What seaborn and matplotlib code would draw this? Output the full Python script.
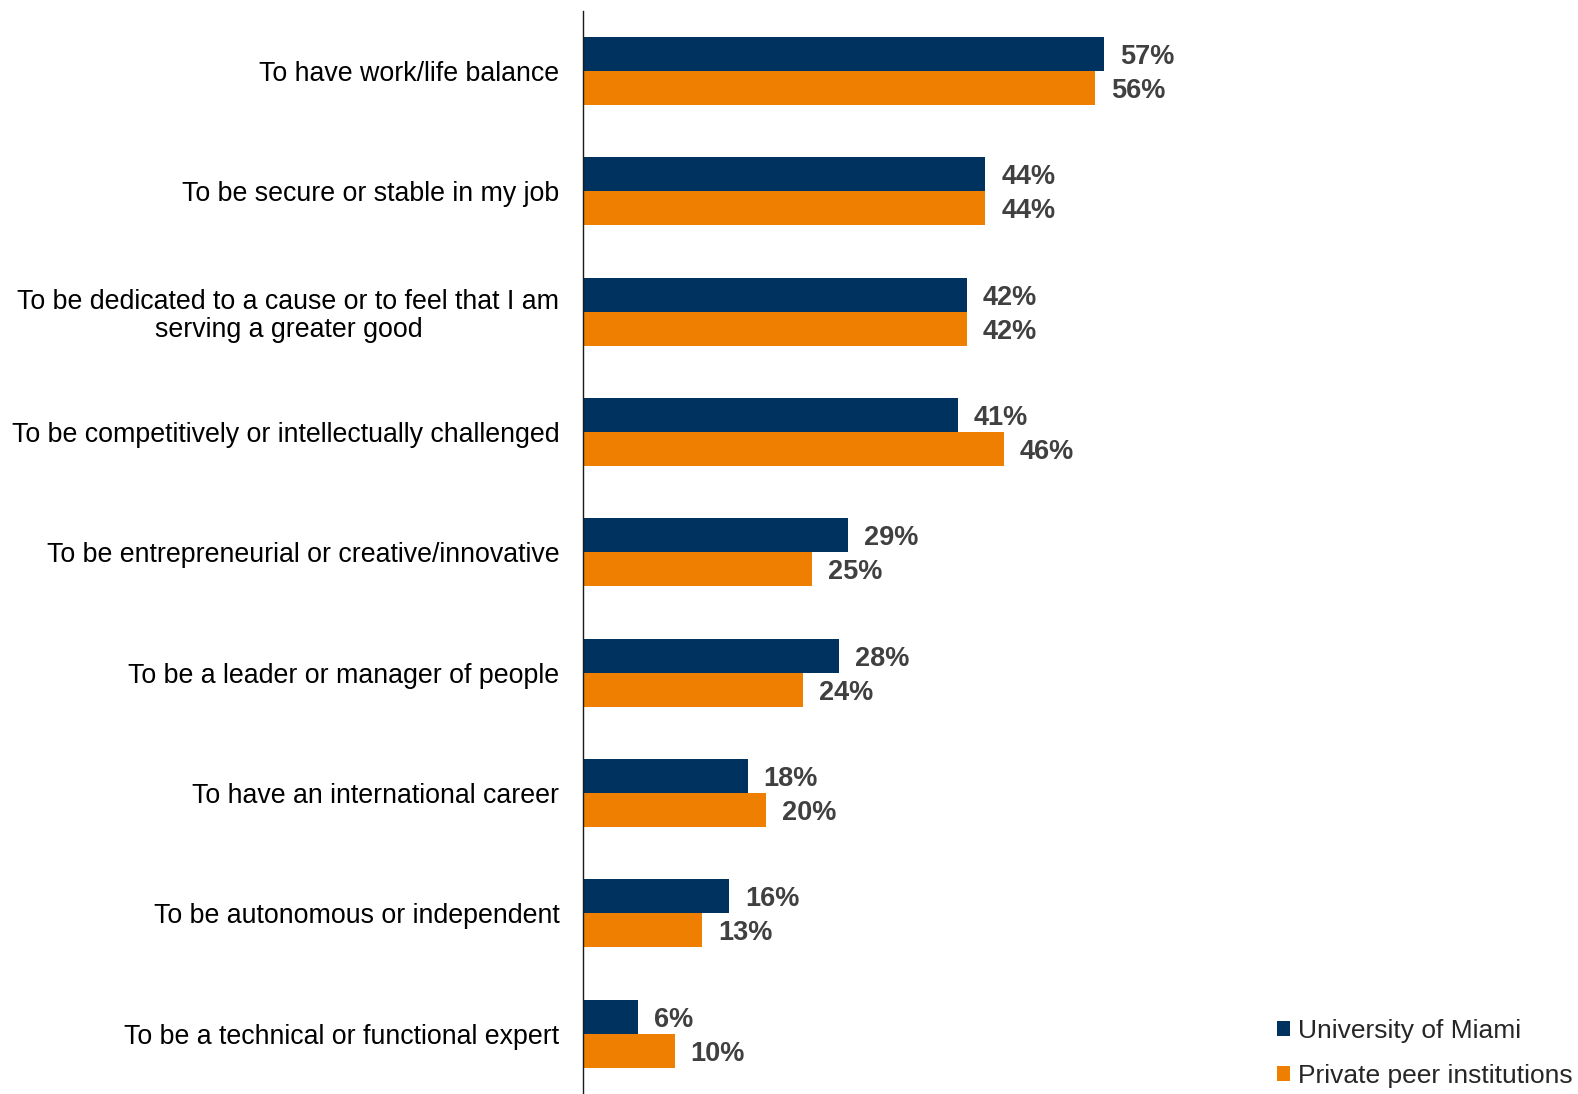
import matplotlib
matplotlib.use("Agg")
import matplotlib.pyplot as plt
from matplotlib.patches import Patch
import seaborn as sns
import pandas as pd

categories = [
    "To have work/life balance",
    "To be secure or stable in my job",
    "To be dedicated to a cause or to feel that I am\nserving a greater good",
    "To be competitively or intellectually challenged",
    "To be entrepreneurial or creative/innovative",
    "To be a leader or manager of people",
    "To have an international career",
    "To be autonomous or independent",
    "To be a technical or functional expert",
]
miami = [57, 44, 42, 41, 29, 28, 18, 16, 6]
peers = [56, 44, 42, 46, 25, 24, 20, 13, 10]
series_names = ["University of Miami", "Private peer institutions"]
colors = ["#00325F", "#EE7F00"]

df = pd.DataFrame({
    "category": categories * 2,
    "value": miami + peers,
    "group": [series_names[0]] * len(categories) + [series_names[1]] * len(categories),
})

sns.set_theme(style="white")
plt.rcParams["font.family"] = ["Liberation Sans", "DejaVu Sans"]

fig = plt.figure(figsize=(15.78, 10.94), dpi=100)
ax = fig.add_axes([0.3695, 0.0, 0.5795, 0.99])

sns.barplot(
    data=df, y="category", x="value", hue="group", orient="h",
    palette=colors, width=0.565, gap=0, linewidth=0, saturation=1,
    order=categories, hue_order=series_names, ax=ax, legend=False,
)

for cont, vals in zip(ax.containers, [miami, peers]):
    texts = ax.bar_label(cont, labels=[f"{v}%" for v in vals], padding=11.5,
                         fontsize=19.5, fontweight="bold", color="#404040")
    for t in texts:
        t.set_verticalalignment("center_baseline")

ax.set_xlim(0, 100)
ax.set_ylim(8.5, -0.5)
ax.set_xlabel("")
ax.set_ylabel("")
ax.set_xticks([])
ax.tick_params(axis="y", length=0, pad=17, labelsize=19.3, labelcolor="black")
for lbl in ax.get_yticklabels():
    lbl.set_multialignment("center")
    lbl.set_linespacing(1.12)

for side in ["top", "right", "bottom"]:
    ax.spines[side].set_visible(False)
ax.spines["left"].set_color("#1a1a1a")
ax.spines["left"].set_linewidth(1.0)

handles = [Patch(facecolor=c, edgecolor="none") for c in colors]
fig.legend(handles, series_names, loc="lower right", bbox_to_anchor=(1.0, 0.0),
           frameon=False, fontsize=19, handlelength=0.5, handleheight=0.5,
           handletextpad=0.27, labelspacing=0.82, borderpad=0.0, borderaxespad=0.22)

fig.savefig("out.png", dpi=100)
